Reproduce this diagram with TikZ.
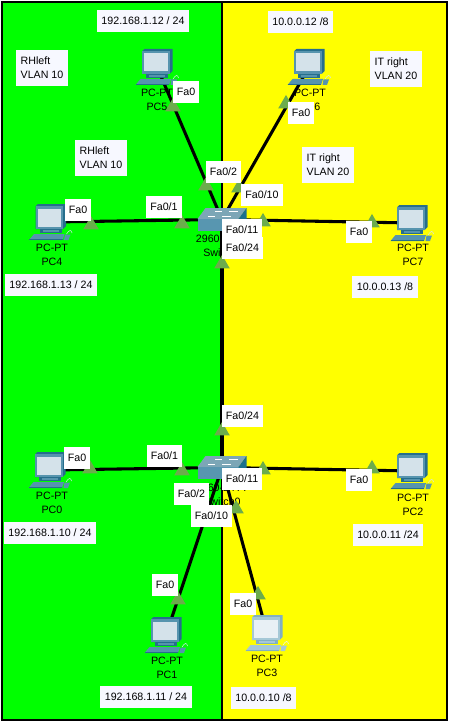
\documentclass[tikz,border=0pt]{standalone}
\usepackage{fontspec}
\setmainfont{Liberation Sans}
\usetikzlibrary{shapes.geometric}
\definecolor{zonegreen}{RGB}{0,255,0}
\definecolor{zoneyellow}{RGB}{255,255,0}
\definecolor{pcface}{RGB}{86,148,174}
\definecolor{pcdark}{RGB}{38,110,140}
\definecolor{pcscreen}{RGB}{212,226,234}
\definecolor{pcpale}{RGB}{165,200,214}
\definecolor{pcpaledark}{RGB}{130,175,195}
\definecolor{pcpalescreen}{RGB}{232,240,245}
\definecolor{swtop}{RGB}{124,166,182}
\definecolor{swface}{RGB}{88,150,176}
\definecolor{swside}{RGB}{28,112,140}
\definecolor{lampgreen}{RGB}{108,172,76}
\definecolor{tagwhite}{RGB}{247,248,255}
\tikzset{
  zone/.style={draw=black, line width=1.1pt},
  link/.style={draw=black, line width=2.3pt},
  lamp/.style={regular polygon, regular polygon sides=3, fill=lampgreen, minimum size=13.5pt, inner sep=0pt, yshift=-.7pt},
  port/.style={fill=white, font=\fontsize{8}{10.5}\selectfont, minimum width=19.5pt, minimum height=16.5pt, inner xsep=3.2pt, inner ysep=0pt},
  tag/.style={fill=tagwhite, font=\fontsize{8}{10.5}\selectfont, minimum height=16.5pt, inner xsep=3.4pt, inner ysep=0pt},
  vlan/.style={fill=tagwhite, font=\fontsize{8}{10.5}\selectfont, align=left, minimum width=39pt, minimum height=27pt, inner xsep=3.4pt, inner ysep=0pt},
  device/.style={font=\fontsize{8}{10.5}\selectfont, align=center, inner sep=0pt},
  pics/pcicon/.style n args={3}{code={
    % monitor
    \fill[#2] (-14.8,-15.8) -- (-12.5,-18) -- (15.5,-18) -- (15.5,4) -- (12.5,7) -- (-14.8,7) -- cycle;
    \fill[#1] (-14.8,-15.8) rectangle (12.5,7);
    \fill[#3] (-12.8,-13.5) rectangle (10.5,4.5);
    % stand and base
    \fill[#2] (-11,7) rectangle (11,11);
    \fill[#1] (-8,8) rectangle (8,10);
    \fill[#1] (-16.5,12) -- (14,12) -- (12,18) -- (-21.5,18) -- cycle;
    \fill[#2] (-21.5,17) rectangle (12,18);
    % mouse and cable
    \fill[#1] (14.5,12.5) -- (20,12.5) -- (18,18) -- (13.5,18) -- cycle;
    \draw[#3, line width=.4pt] (16,12) .. controls (19,7) and (21,8) .. (21.5,11);
  }},
  pics/switchicon/.style={code={
    \fill[swtop] (-24.5,-.5) -- (-16.5,-11.5) -- (24.5,-11.5) -- (16.5,-.5) -- cycle;
    \fill[swface] (-24.5,-.5) rectangle (16.5,11.5);
    \fill[swside] (16.5,-.5) -- (24.5,-11.5) -- (24.5,.5) -- (16.5,11.5) -- cycle;
    % arrows on the lid
    \draw[white, line width=.7pt] (-7,-8) -- (0,-8);
    \draw[white, line width=.7pt] (7,-8) -- (16,-8);
    \draw[white, line width=.7pt] (-14,-3.5) -- (-7,-3.5);
    \draw[white, line width=.7pt] (0,-3.5) -- (9,-3.5);
  }},
}
\begin{document}
\begin{tikzpicture}[x=0.75pt, y=-0.75pt]
  \useasboundingbox (0,0) rectangle (451,724);
  \draw[zone, fill=zonegreen] (2,2) rectangle (222,720);
  \draw[zone, fill=zoneyellow] (222,2) rectangle (447,720);

  \coordinate (pc0) at (50,470);
  \coordinate (pc1) at (166,635);
  \coordinate (pc2) at (412,471);
  \coordinate (pc3) at (267,633);
  \coordinate (pc4) at (50.5,222);
  \coordinate (pc5) at (157,67);
  \coordinate (pc6) at (309,67);
  \coordinate (pc7) at (412,223);
  \coordinate (sw0) at (222,467.5);
  \coordinate (sw1) at (222,219.5);

  \foreach \from/\to in {pc4/sw1,pc5/sw1,pc6/sw1,pc7/sw1,sw1/sw0,pc0/sw0,pc1/sw0,pc2/sw0,pc3/sw0}
    \path[link] (\from) -- (\to);

  \pic at (pc0) {pcicon={pcface}{pcdark}{pcscreen}};
  \pic at (pc1) {pcicon={pcface}{pcdark}{pcscreen}};
  \pic at (pc2) {pcicon={pcface}{pcdark}{pcscreen}};
  \pic at (pc3) {pcicon={pcpale}{pcpaledark}{pcpalescreen}};
  \pic at (pc4) {pcicon={pcface}{pcdark}{pcscreen}};
  \pic at (pc5) {pcicon={pcface}{pcdark}{pcscreen}};
  \pic at (pc6) {pcicon={pcface}{pcdark}{pcscreen}};
  \pic at (pc7) {pcicon={pcface}{pcdark}{pcscreen}};
  \pic at (sw0) {switchicon};
  \pic at (sw1) {switchicon};

  \node[device] (pc0name) at (52,503) {PC-PT\\PC0};
  \node[device] (pc1name) at (167,668) {PC-PT\\PC1};
  \node[device] (pc2name) at (413,504.5) {PC-PT\\PC2};
  \node[device] (pc3name) at (267,666) {PC-PT\\PC3};
  \node[device] (pc4name) at (52,255) {PC-PT\\PC4};
  \node[device] (pc5name) at (157,100) {PC-PT\\PC5};
  \node[device] (pc6name) at (310,100) {PC-PT\\PC6};
  \node[device] (pc7name) at (413,255) {PC-PT\\PC7};
  \node[device] (sw0name) at (222,494.5) {2960-24TT\\Switch0};
  \node[device] (sw1name) at (222,246) {2960-24TT\\Switch1};

  \foreach \n/\x/\y in {1/173/106,2/206/185,3/286/103,4/239/187,5/91/224,6/182/223,7/263/221,8/372/222,9/222/263,
      10/222/430,11/90/468,12/182/470,13/263/469,14/372/468,15/236/508,16/178/599,17/258/594}
    \node[lamp] (lamp\n) at (\x,\y) {};

  % upper switch ports
  \node[port] (fa5) at (186,92) {Fa0};
  \node[port] (fa6) at (301,112.5) {Fa0};
  \node[port] (fa4) at (78,210) {Fa0};
  \node[port] (fa7) at (359,232) {Fa0};
  \node[port] (sw1fa1) at (164,207) {Fa0/1};
  \node[port] (sw1fa2) at (223.5,172) {Fa0/2};
  \node[port] (sw1fa10) at (262,195) {Fa0/10};
  \node[port] (sw1fa11) at (242,230) {Fa0/11};
  \node[port] (sw1fa24) at (242.5,248) {Fa0/24};
  % lower switch ports
  \node[port] (fa0) at (77,458) {Fa0};
  \node[port] (fa2) at (359,480) {Fa0};
  \node[port] (fa1) at (165,585) {Fa0};
  \node[port] (fa3) at (243,604) {Fa0};
  \node[port] (sw0fa24) at (242.5,416) {Fa0/24};
  \node[port] (sw0fa1) at (164.5,456) {Fa0/1};
  \node[port] (sw0fa11) at (242,479) {Fa0/11};
  \node[port] (sw0fa2) at (191.5,494) {Fa0/2};
  \node[port] (sw0fa10) at (211.5,516) {Fa0/10};

  \node[tag] (ip5) at (143,21) {192.168.1.12 / 24};
  \node[tag] (ip6) at (300.5,22) {10.0.0.12 /8};
  \node[tag] (ip4) at (51,285) {192.168.1.13 / 24};
  \node[tag] (ip7) at (385,287) {10.0.0.13 /8};
  \node[tag] (ip0) at (50,533) {192.168.1.10 / 24};
  \node[tag] (ip2) at (388,535) {10.0.0.11 /24};
  \node[tag] (ip1) at (146,697) {192.168.1.11 / 24};
  \node[tag] (ip3) at (263.5,698) {10.0.0.10 /8};

  \node[vlan] (rhleftA) at (42,68) {RHleft\\VLAN 10};
  \node[vlan] (rhleftB) at (101,158) {RHleft\\VLAN 10};
  \node[vlan] (itrightA) at (396,69) {IT right\\VLAN 20};
  \node[vlan] (itrightB) at (328,165) {IT right\\VLAN 20};
\end{tikzpicture}
\end{document}
